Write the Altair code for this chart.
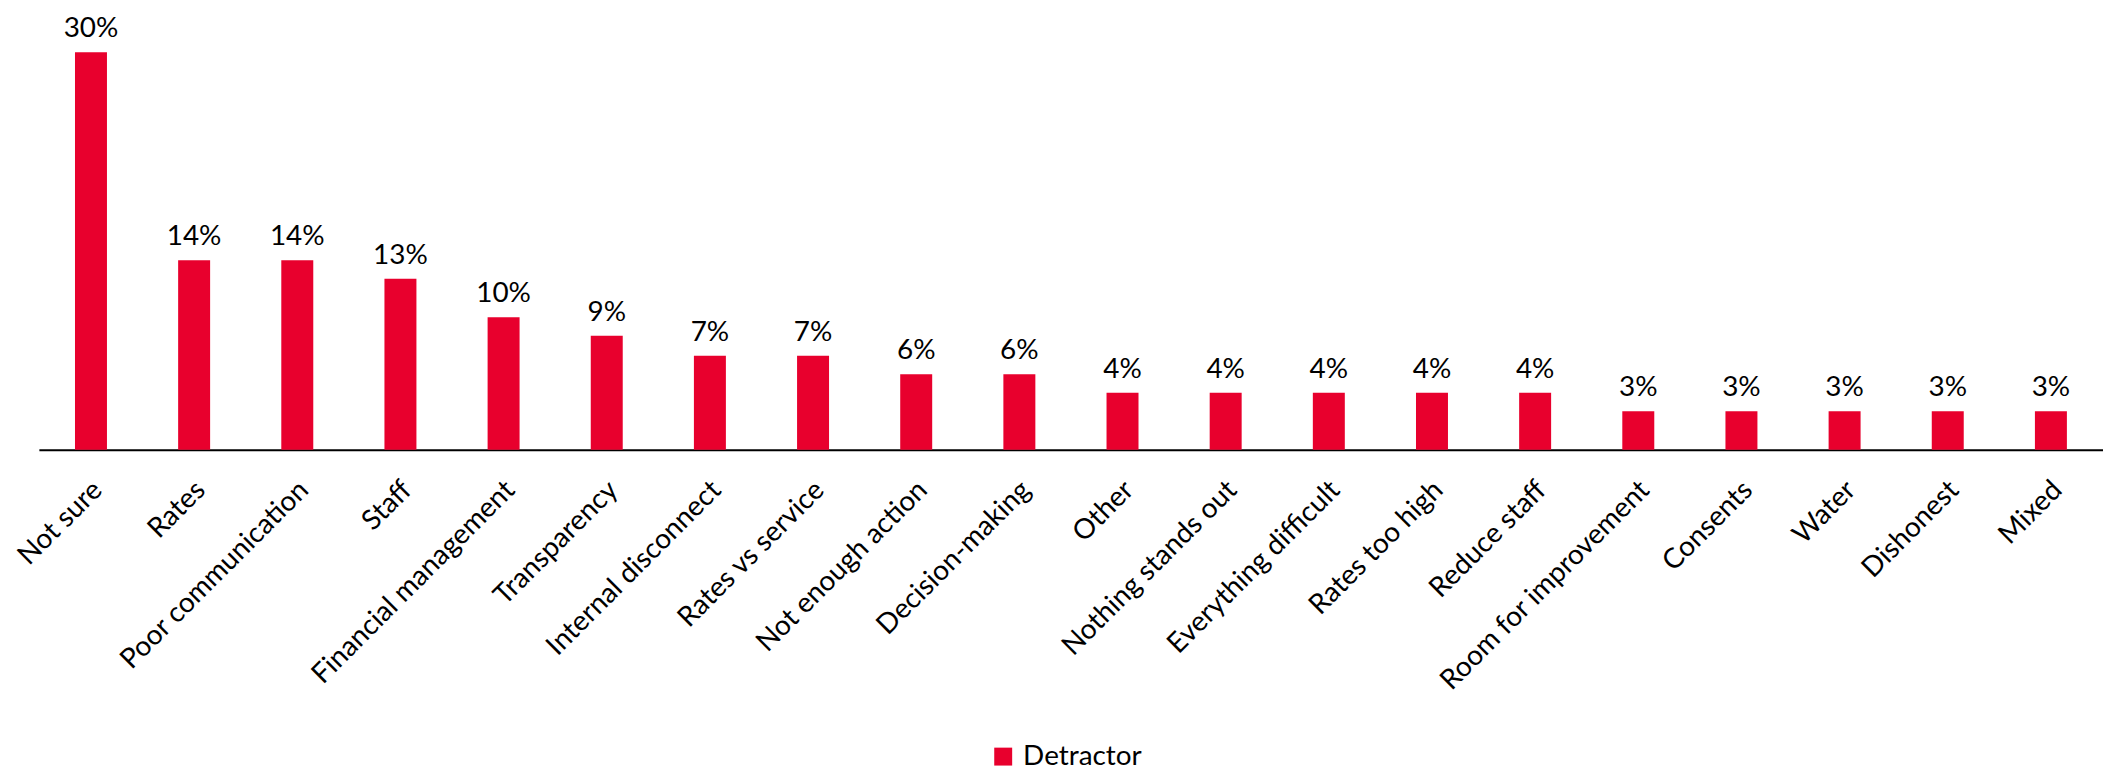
import altair as alt
import pandas as pd

categories = ["Not sure", "Rates", "Poor communication", "Staff", "Financial management",
              "Transparency", "Internal disconnect", "Rates vs service", "Not enough action",
              "Decision-making", "Other", "Nothing stands out", "Everything difficult",
              "Rates too high", "Reduce staff", "Room for improvement", "Consents", "Water",
              "Dishonest", "Mixed"]
values = [0.300, 0.143, 0.143, 0.129, 0.100, 0.086, 0.071, 0.071, 0.057, 0.057,
          0.043, 0.043, 0.043, 0.043, 0.043, 0.029, 0.029, 0.029, 0.029, 0.029]
series = ["Detractor"] * len(categories)

df = pd.DataFrame({"category": categories, "value": values, "series": series})

FONT = "Lato"
RED = "#E8002D"
FS = 28

x = alt.X("category:N", sort=categories, title=None,
          scale=alt.Scale(paddingInner=0.69, paddingOuter=0.35),
          axis=alt.Axis(labelAngle=-45, labelAlign="right", labelBaseline="middle",
                        labelFontSize=FS, labelFont=FONT, labelColor="black",
                        labelPadding=36, labelOffset=7, ticks=False, domainColor="black",
                        domainWidth=2, grid=False, labelLimit=0))
y = alt.Y("value:Q", scale=alt.Scale(domain=[0, 0.30], nice=False, zero=True), axis=None)

bars = alt.Chart(df).mark_bar().encode(
    x=x, y=y,
    color=alt.Color("series:N", scale=alt.Scale(domain=["Detractor"], range=[RED]),
                    legend=alt.Legend(title=None, orient="none", legendX=954, legendY=693,
                                      symbolType="square", symbolSize=324,
                                      symbolStrokeWidth=0, labelFontSize=FS,
                                      labelFont=FONT, labelColor="black",
                                      labelOffset=6, padding=0))
)

labels = alt.Chart(df).mark_text(baseline="alphabetic", dy=-15, fontSize=FS,
                                 font=FONT, color="black").encode(
    x=alt.X("category:N", sort=categories),
    y=alt.Y("value:Q"),
    text=alt.Text("value:Q", format=".0%")
)

chart = alt.layer(bars, labels).properties(
    width=2072, height=399,
    padding={"left": 31, "top": 43, "right": 0, "bottom": 323},
    autosize=alt.AutoSizeParams(type="none")
).configure_view(stroke=None)

chart.save("out.html", embed_options={"renderer": "svg", "actions": False})
